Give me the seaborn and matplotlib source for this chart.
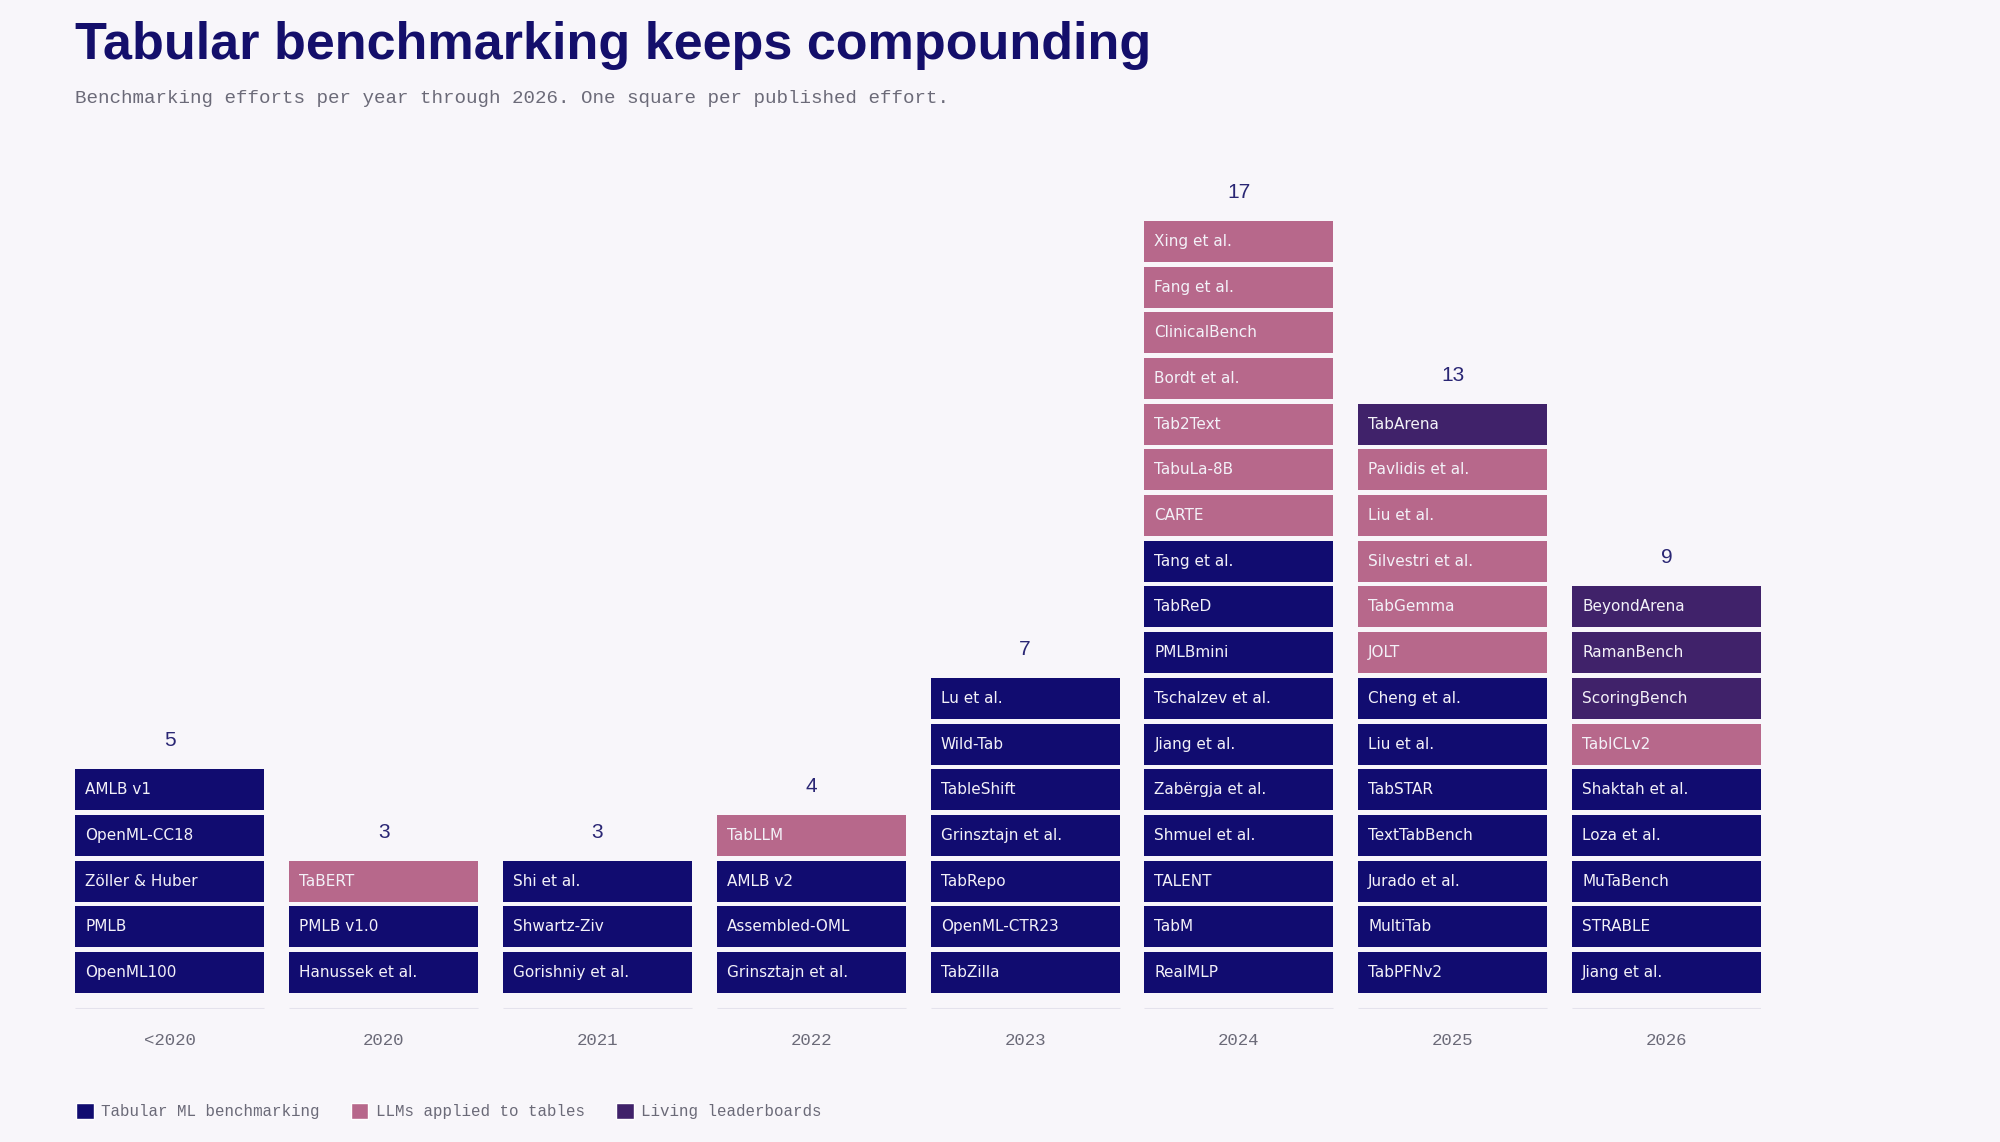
import pandas as pd
import matplotlib.pyplot as plt
import seaborn as sns
from matplotlib.patches import Patch

# Benchmarking efforts per year, listed bottom -> top.
# Kind codes: T = tabular ML benchmarking, L = LLMs applied to tables, A = living leaderboards
years = ['<2020', '2020', '2021', '2022', '2023', '2024', '2025', '2026']

efforts_pre2020 = [('OpenML100', 'T'), ('PMLB', 'T'), ('Zöller & Huber', 'T'),
                   ('OpenML-CC18', 'T'), ('AMLB v1', 'T')]
efforts_2020 = [('Hanussek et al.', 'T'), ('PMLB v1.0', 'T'), ('TaBERT', 'L')]
efforts_2021 = [('Gorishniy et al.', 'T'), ('Shwartz-Ziv', 'T'), ('Shi et al.', 'T')]
efforts_2022 = [('Grinsztajn et al.', 'T'), ('Assembled-OML', 'T'), ('AMLB v2', 'T'),
                ('TabLLM', 'L')]
efforts_2023 = [('TabZilla', 'T'), ('OpenML-CTR23', 'T'), ('TabRepo', 'T'),
                ('Grinsztajn et al.', 'T'), ('TableShift', 'T'), ('Wild-Tab', 'T'),
                ('Lu et al.', 'T')]
efforts_2024 = [('RealMLP', 'T'), ('TabM', 'T'), ('TALENT', 'T'), ('Shmuel et al.', 'T'),
                ('Zabërgja et al.', 'T'), ('Jiang et al.', 'T'), ('Tschalzev et al.', 'T'),
                ('PMLBmini', 'T'), ('TabReD', 'T'), ('Tang et al.', 'T'),
                ('CARTE', 'L'), ('TabuLa-8B', 'L'), ('Tab2Text', 'L'), ('Bordt et al.', 'L'),
                ('ClinicalBench', 'L'), ('Fang et al.', 'L'), ('Xing et al.', 'L')]
efforts_2025 = [('TabPFNv2', 'T'), ('MultiTab', 'T'), ('Jurado et al.', 'T'),
                ('TextTabBench', 'T'), ('TabSTAR', 'T'), ('Liu et al.', 'T'),
                ('Cheng et al.', 'T'), ('JOLT', 'L'), ('TabGemma', 'L'),
                ('Silvestri et al.', 'L'), ('Liu et al.', 'L'), ('Pavlidis et al.', 'L'),
                ('TabArena', 'A')]
efforts_2026 = [('Jiang et al.', 'T'), ('STRABLE', 'T'), ('MuTaBench', 'T'),
                ('Loza et al.', 'T'), ('Shaktah et al.', 'T'), ('TabICLv2', 'L'),
                ('ScoringBench', 'A'), ('RamanBench', 'A'), ('BeyondArena', 'A')]

kind_labels = {'T': 'Tabular ML benchmarking', 'L': 'LLMs applied to tables',
               'A': 'Living leaderboards'}
kind_colors = {'T': '#110c70', 'L': '#b7688b', 'A': '#40226a'}

BG = '#f8f6fa'
NAVY = '#140f6b'
GREY = '#6b6a78'

# Long table: one row per effort (square)
columns = [efforts_pre2020, efforts_2020, efforts_2021, efforts_2022,
           efforts_2023, efforts_2024, efforts_2025, efforts_2026]
rows = []
for col, efforts in enumerate(columns):
    for level, (name, kind) in enumerate(efforts):
        rows.append({'col': col, 'level': level, 'name': name, 'kind': kind})
df = pd.DataFrame(rows)
counts = df.groupby('col').size()

sns.set_theme(style='white')
plt.rcParams['font.family'] = ['Liberation Sans', 'DejaVu Sans']

fig = plt.figure(figsize=(20, 11.42), dpi=100, facecolor=BG)
ax = fig.add_axes([0.03765, 0.1165, 0.8429, 0.7522])
ax.set_facecolor(BG)

box_w = 0.884
box_h = 0.897

ax.bar(df['col'], box_h, bottom=df['level'], width=box_w, align='center',
       color=df['kind'].map(kind_colors), edgecolor='none')

for _, r in df.iterrows():
    ax.text(r['col'] - box_w / 2 + 0.047, r['level'] + box_h / 2, r['name'],
            color='#f3f1f8', fontsize=11, family='DejaVu Sans',
            ha='left', va='center')

for col, n in counts.items():
    ax.text(col, n + 0.52, str(n), color='#2a2674', fontsize=15,
            ha='center', va='center')
    ax.hlines(-0.35, col - box_w / 2, col + box_w / 2, color='#e4e2ec', lw=2.2)
    ax.text(col, -1.05, years[col], color=GREY, fontsize=12.5,
            family='Liberation Mono', ha='center', va='center')

ax.set_xlim(-box_w / 2, len(years) - 1 + box_w / 2)
ax.set_ylim(-0.35, 18.45)
ax.axis('off')

fig.text(0.0375, 0.960, 'Tabular benchmarking keeps compounding', color=NAVY,
         fontsize=37.5, fontweight='bold', ha='left', va='center')
fig.text(0.0375, 0.914, 'Benchmarking efforts per year through 2026. One square per published effort.',
         color=GREY, fontsize=13.8, family='Liberation Mono', ha='left', va='center')

handles = [Patch(facecolor=kind_colors[k], label=kind_labels[k]) for k in ['T', 'L', 'A']]
leg = fig.legend(handles=handles, loc='center left', bbox_to_anchor=(0.031, 0.027),
                 ncol=3, frameon=False, handlelength=1.1, handleheight=1.15,
                 handletextpad=0.48, columnspacing=1.97,
                 prop={'family': 'Liberation Mono', 'size': 11.4})
for t in leg.get_texts():
    t.set_color(GREY)

fig.savefig('out.png', dpi=100, facecolor=BG)
